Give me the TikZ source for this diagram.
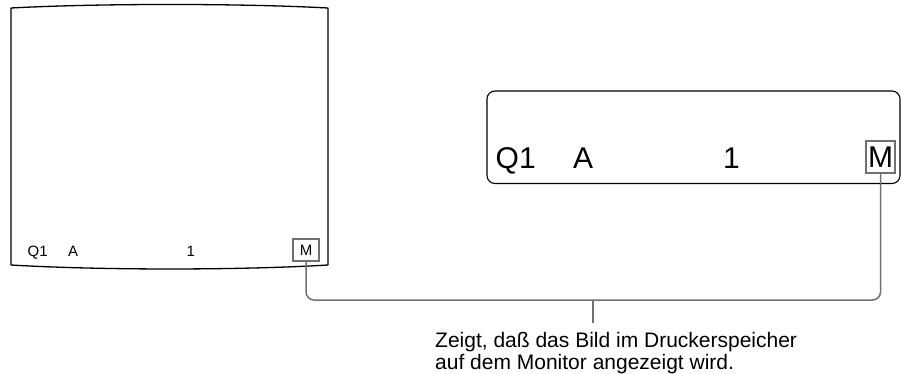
\documentclass[tikz,border=0pt]{standalone}
\usepackage{fontspec}
\setmainfont{Liberation Sans}
\definecolor{lead}{HTML}{707070}
\begin{document}
\begin{tikzpicture}[x=1pt,y=-1pt,
  smalltxt/.style={inner sep=0pt,anchor=base west,font=\fontsize{15}{18}\selectfont},
  bigtxt/.style={inner sep=0pt,anchor=base west,font=\fontsize{30}{34}\selectfont},
  capt/.style={inner sep=0pt,anchor=base west,font=\fontsize{21}{22}\selectfont},
  mbox/.style={draw=lead,line width=1.5pt,inner sep=0pt},
  leader/.style={draw=lead,line width=1.5pt,rounded corners=8pt}]
\useasboundingbox (0,0) rectangle (901,374);
% monitor screen
\draw[line width=1.3pt,line join=round] (11,8) .. controls (100,3.3) and (240,3.3) .. (328,8)
  -- (328,265) .. controls (240,270.3) and (100,270.3) .. (11,265) -- cycle;
\node[smalltxt] (lq) at (27.5,256) {Q1};
\node[smalltxt] (la) at (68,256) {A};
\node[smalltxt] (l1) at (186.5,256) {1};
\node[mbox,minimum width=26pt,minimum height=22pt] (lm) at (306,250) {\fontsize{15}{18}\selectfont M};
% printer display
\draw[line width=1.1pt,rounded corners=8pt] (487,91) rectangle (900,183.5);
\node[bigtxt] (rq) at (495.5,168) {Q1};
\node[bigtxt] (ra) at (573,168) {A};
\node[bigtxt] (r1) at (723,168) {1};
\node[mbox,minimum width=29pt,minimum height=32pt] (rm) at (880.5,157) {\fontsize{30}{34}\selectfont M};
% leader
\draw[leader] (lm.south) |- (rm.south |- 0,300) -- (rm.south);
\coordinate (stemtop) at (593,300);
\coordinate (stemend) at (593,323);
\draw[draw=lead,line width=1.5pt] (stemtop) -- (stemend);
\node[capt] (cap1) at (435,347) {Zeigt, daß das Bild im Druckerspeicher};
\node[capt] (cap2) at (435,369) {auf dem Monitor angezeigt wird.};
\end{tikzpicture}
\end{document}
